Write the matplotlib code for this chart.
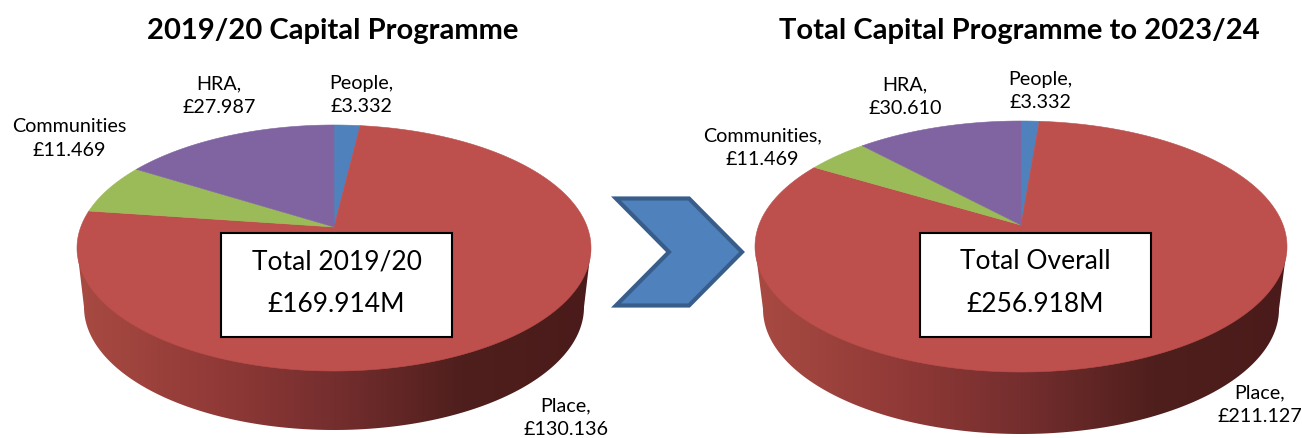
import numpy as np
import matplotlib
matplotlib.use("Agg")
import matplotlib.pyplot as plt
from matplotlib.colors import LinearSegmentedColormap
from matplotlib.patches import Polygon, Rectangle

plt.rcParams["font.family"] = ["Lato", "DejaVu Sans"]

# slices run clockwise from 12 o'clock
SEGMENTS = ["People", "Place", "Communities", "HRA"]
COLORS = ["#4F81BD", "#BD4F4C", "#9BBB59", "#8064A2"]
VALUES_1920 = [3.332, 130.136, 11.469, 27.987]
VALUES_TOTAL = [3.332, 211.127, 11.469, 30.610]
LABELS_1920 = ["People,\n£3.332", "Place,\n£130.136", "Communities\n£11.469", "HRA,\n£27.987"]
LABELS_TOTAL = ["People,\n£3.332", "Place,\n£211.127", "Communities,\n£11.469", "HRA,\n£30.610"]

WALL_CMAP = LinearSegmentedColormap.from_list(
    "wall", [(0, "#A84A42"), (0.25, "#933B38"), (0.5, "#752E2E"),
             (0.75, "#4F1F1D"), (1, "#4A1B1A")])


def project(theta, k):
    # moves the apex off-centre but keeps the rim on the unit circle
    x, y = np.sin(theta), np.cos(theta)
    d = 1 + k * y
    return x * np.sqrt(1 - k ** 2) / d, (y + k) / d


def pie3d(ax, values, cx, cy, rx, ry, k, base_rx, base_cy, base_ry):
    t = np.linspace(0, np.pi, 200)

    # side wall with horizontal shading, clipped to the outline
    wall = np.vstack([[cx - rx, cy],
                      np.column_stack([cx - base_rx * np.cos(t), base_cy + base_ry * np.sin(t)]),
                      [cx + rx, cy]])
    patch = Polygon(wall, closed=True, fc="none", ec="none")
    ax.add_patch(patch)
    im = ax.imshow(np.linspace(0, 1, 256)[None, :], cmap=WALL_CMAP, aspect="auto",
                   extent=(cx - rx, cx + rx, base_cy + base_ry, cy - 1), zorder=1)
    im.set_clip_path(patch)

    # top face
    fracs = np.array(values) / sum(values)
    edges = np.concatenate([[0], np.cumsum(fracs)]) * 2 * np.pi
    for i, col in enumerate(COLORS):
        th = np.linspace(edges[i], edges[i + 1], 300)
        px, py = project(th, k)
        pts = np.column_stack([cx + rx * px, cy - ry * py])
        apex = [cx, cy - ry * k]
        ax.add_patch(Polygon(np.vstack([apex, pts]), closed=True, fc=col, ec=col,
                             lw=0.4, zorder=2))


fig = plt.figure(figsize=(13.02, 4.39), dpi=100)
ax = fig.add_axes([0, 0, 1, 1])

pie3d(ax, VALUES_1920, 334, 249, 257, 123, 0.171, 250, 308, 123)
pie3d(ax, VALUES_TOTAL, 1021, 247.5, 266, 125.5, 0.171, 258, 310, 125)

ax.set_xlim(0, 1302)
ax.set_ylim(439, 0)
ax.axis("off")

ax.text(333, 31, "2019/20 Capital Programme", fontsize=21, fontweight="bold",
        ha="center", va="center")
ax.text(1019, 31, "Total Capital Programme to 2023/24", fontsize=21, fontweight="bold",
        ha="center", va="center")

# slice labels, same order as the values
label_xy_1920 = [(361, 95), (566, 418), (69, 139), (219, 96)]
label_xy_total = [(1040, 91), (1260, 405), (762, 148), (905, 97)]
for labels, places in [(LABELS_1920, label_xy_1920), (LABELS_TOTAL, label_xy_total)]:
    for txt, (x, y) in zip(labels, places):
        ax.text(x, y, txt, fontsize=14.2, ha="center", va="center", linespacing=1.5, zorder=5)

# total boxes
for x0, x1, line1, line2 in [(221, 452, "Total 2019/20", "£169.914M"),
                             (920, 1151, "Total Overall", "£256.918M")]:
    ax.add_patch(Rectangle((x0, 234), x1 - x0, 104, fc="white", ec="black", lw=1.5, zorder=4))
    xc = (x0 + x1) / 2
    ax.text(xc, 262, line1, fontsize=19, ha="center", va="center", zorder=5)
    ax.text(xc, 305, line2, fontsize=19, ha="center", va="center", zorder=5)

# arrow between the two pies
chevron = [(616, 199.5), (689, 199.5), (742, 253), (689, 306.5), (616, 306.5), (669, 253)]
ax.add_patch(Polygon(chevron, closed=True, fc="#4F81BD", ec="#385D8A", lw=3,
                     joinstyle="miter", zorder=3))

fig.savefig("out.png", dpi=100)
